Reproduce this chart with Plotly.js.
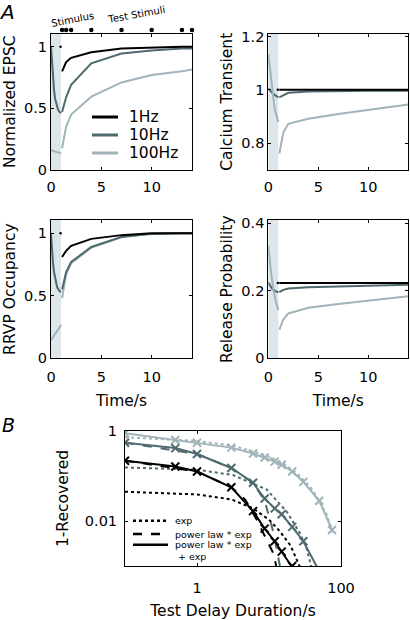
<!DOCTYPE html>
<html>
<head>
<meta charset="utf-8">
<script src="https://cdn.plot.ly/plotly-3.0.1.min.js"></script>
<style>html,body{margin:0;padding:0;background:#fff}#chart{width:410px;height:620px}</style>
</head>
<body>
<div id="chart"></div>
<script>
// ---------- Panel A data ----------
const tStim = [0, 0.1, 0.2, 0.3, 0.4, 0.5, 0.6, 0.7, 0.8, 0.9, 1.0];
const tStimShort = [0, 0.5, 1.0];
const tStimRp = [0, 0.1, 0.25, 0.5, 0.75, 1.0];
const tOneHz = [0.95];
const tTest = [1.1, 1.5, 2, 4, 7, 10, 13, 14];

// Normalized EPSC
const epsc1HzStim = [1.0];
const epsc1Hz = [0.80, 0.875, 0.91, 0.955, 0.985, 0.995, 1.0, 1.0];
const epsc10HzStim = [1.0, 0.86, 0.74, 0.65, 0.58, 0.54, 0.51, 0.49, 0.475, 0.467, 0.46];
const epsc10Hz = [0.47, 0.59, 0.69, 0.865, 0.945, 0.97, 0.985, 0.985];
const epsc100HzStim = [0.16, 0.147, 0.135];
const epsc100Hz = [0.176, 0.35, 0.45, 0.595, 0.71, 0.77, 0.80, 0.815];

// Calcium transient
const ca1HzStim = [1.0];
const ca1Hz = [1.0, 1.0, 1.0, 1.0, 1.0, 1.0, 1.0, 1.0];
const ca10HzStim = [1.005, 1.0, 0.996, 0.992, 0.988, 0.985, 0.982, 0.979, 0.976, 0.974, 0.972];
const ca10Hz = [0.972, 0.981, 0.989, 0.994, 0.996, 0.997, 0.997, 0.997];
const ca100HzStim = [1.134, 1.10, 1.065, 1.03, 0.995, 0.965, 0.94, 0.92, 0.905, 0.89, 0.88];
const ca100Hz = [0.762, 0.84, 0.873, 0.892, 0.91, 0.925, 0.938, 0.945];

// RRVP occupancy
const rr1HzStim = [1.0];
const rr1Hz = [0.81, 0.86, 0.90, 0.955, 0.985, 1.0, 1.0, 1.0];
const rr10HzStim = [1.0, 0.86, 0.76, 0.69, 0.64, 0.60, 0.57, 0.555, 0.54, 0.535, 0.53];
const rr10Hz = [0.55, 0.69, 0.77, 0.89, 0.97, 0.995, 1.0, 1.0];
const rr100HzStim = [0.146, 0.21, 0.266];
const rr100Hz = [0.48, 0.67, 0.76, 0.885, 0.97, 0.995, 1.0, 1.0];

// Release probability
const rp1HzStim = [0.223];
const rp1Hz = [0.223, 0.223, 0.223, 0.223, 0.223, 0.223, 0.223, 0.223];
const rp10HzStim = [0.225, 0.219, 0.214, 0.21, 0.206, 0.203, 0.201, 0.199, 0.198, 0.197, 0.196];
const rp10Hz = [0.196, 0.203, 0.207, 0.211, 0.213, 0.215, 0.217, 0.218];
const rp100HzStim = [0.335, 0.30, 0.26, 0.205, 0.168, 0.143];
const rp100Hz = [0.084, 0.115, 0.133, 0.15, 0.161, 0.171, 0.181, 0.184];

// Test stimulus markers (row above the first panel, on its own hidden axis)
const stimMarkY = [0.5, 0.5, 0.5, 0.5, 0.5, 0.5, 0.5, 0.5];

// ---------- Panel B data ----------
const delays = [0.1, 0.5, 1, 3, 6, 8.7, 12, 15, 21, 30, 50, 75];
const rec100Hz = [0.891, 0.631, 0.550, 0.427, 0.316, 0.257, 0.209, 0.178, 0.126, 0.0741, 0.0282, 0.00631];
const rec10Hz = [0.550, 0.417, 0.309, 0.151, 0.0708, 0.0316, 0.0191, 0.0141, 0.00741, 0.00355, 0.00076, 0.00025];
const delays1Hz = [0.1, 0.5, 1, 3, 6, 8.7, 12, 15, 21, 30];
const rec1Hz = [0.219, 0.162, 0.126, 0.0562, 0.0166, 0.00676, 0.00355, 0.00209, 0.001, 0.000398];

const expX1 = [0.1, 1, 3, 6, 10, 14, 20, 26, 32];
const expY1 = [0.0447, 0.0389, 0.0302, 0.0191, 0.0107, 0.00603, 0.00282, 0.00112, 0.0005];
const expX10 = [0.1, 1, 3.16, 9.3, 17.8, 26.9, 33.1, 38.9, 44.7];
const expY10 = [0.155, 0.138, 0.105, 0.050, 0.0158, 0.00537, 0.00251, 0.001, 0.0004];
const expX100 = [0.1, 1, 3.2, 8.7, 15.8, 25, 40, 63, 79];
const expY100 = [0.724, 0.603, 0.468, 0.295, 0.191, 0.112, 0.0501, 0.0141, 0.00501];
const plX1 = [0.1, 1, 3, 4.7, 6.8, 9.3, 11.5, 12.6, 14.1];
const plY1 = [0.219, 0.126, 0.0562, 0.0295, 0.0105, 0.0038, 0.0019, 0.001, 0.0005];
const plX10 = [0.1, 1, 3, 6, 8.7, 11, 12.6, 14.1, 15.8];
const plY10 = [0.550, 0.309, 0.151, 0.0708, 0.0282, 0.00741, 0.00269, 0.001, 0.0004];

const seriesNames = ['1Hz', '10Hz', '100Hz'];
const xTickVals = [0, 5, 10];
const bLegendNames = ['exp', 'power law * exp', 'power law * exp', '+ exp'];

// ---------- styles ----------
const C1 = '#000000', C10 = '#4f6a6f', C100 = '#a0b4b9';
const FONT = 'DejaVu Sans, Verdana, sans-serif';
const W = 410, H = 620;
const px = v => v / W, py = v => 1 - v / H;

const traces = [];
function addPanel(ax, s1, r1, s10, r10, tS100, s100, r100) {
  const xa = 'x' + (ax === 1 ? '' : ax), ya = 'y' + (ax === 1 ? '' : ax);
  const base = {xaxis: xa, yaxis: ya, hoverinfo: 'skip', type: 'scatter'};
  traces.push(Object.assign({}, base, {x: tOneHz, y: s1, mode: 'markers', marker: {color: C1, size: 2.5}}));
  traces.push(Object.assign({}, base, {x: tStim, y: s10, mode: 'lines', line: {color: C10, width: 2}}));
  traces.push(Object.assign({}, base, {x: tS100, y: s100, mode: 'lines', line: {color: C100, width: 2}}));
  traces.push(Object.assign({}, base, {x: tTest, y: r100, mode: 'lines', line: {color: C100, width: 2}, name: seriesNames[2]}));
  traces.push(Object.assign({}, base, {x: tTest, y: r10, mode: 'lines', line: {color: C10, width: 2}, name: seriesNames[1]}));
  traces.push(Object.assign({}, base, {x: tTest, y: r1, mode: 'lines', line: {color: C1, width: 2}, name: seriesNames[0]}));
}
addPanel(1, epsc1HzStim, epsc1Hz, epsc10HzStim, epsc10Hz, tStimShort, epsc100HzStim, epsc100Hz);
addPanel(2, ca1HzStim, ca1Hz, ca10HzStim, ca10Hz, tStim, ca100HzStim, ca100Hz);
addPanel(3, rr1HzStim, rr1Hz, rr10HzStim, rr10Hz, tStimShort, rr100HzStim, rr100Hz);
addPanel(4, rp1HzStim, rp1Hz, rp10HzStim, rp10Hz, tStimRp, rp100HzStim, rp100Hz);

traces.push({x: tTest, y: stimMarkY, xaxis: 'x', yaxis: 'y6', mode: 'markers', marker: {color: '#000', size: 4.5},
  cliponaxis: false, hoverinfo: 'skip', type: 'scatter'});

// Panel B
const bb = {xaxis: 'x5', yaxis: 'y5', hoverinfo: 'skip', type: 'scatter'};
traces.push(Object.assign({}, bb, {x: expX100, y: expY100, mode: 'lines', line: {color: C100, width: 2, dash: 'dot'}}));
traces.push(Object.assign({}, bb, {x: expX10, y: expY10, mode: 'lines', line: {color: C10, width: 2, dash: 'dot'}}));
traces.push(Object.assign({}, bb, {x: plX10, y: plY10, mode: 'lines', line: {color: C10, width: 2, dash: 'dash'}}));
traces.push(Object.assign({}, bb, {x: delays, y: rec100Hz, mode: 'lines+markers', line: {color: C100, width: 2},
  marker: {symbol: 'x-thin', size: 8, line: {color: C100, width: 2}}}));
traces.push(Object.assign({}, bb, {x: delays, y: rec10Hz, mode: 'lines+markers', line: {color: C10, width: 2},
  marker: {symbol: 'x-thin', size: 8, line: {color: C10, width: 2}}}));
traces.push(Object.assign({}, bb, {x: expX1, y: expY1, mode: 'lines', line: {color: C1, width: 2, dash: 'dot'}}));
traces.push(Object.assign({}, bb, {x: plX1, y: plY1, mode: 'lines', line: {color: C1, width: 2, dash: 'dash'}}));
traces.push(Object.assign({}, bb, {x: delays1Hz, y: rec1Hz, mode: 'lines+markers', line: {color: C1, width: 2},
  marker: {symbol: 'x-thin', size: 8, line: {color: C1, width: 2}}}));

// ---------- axes ----------
const tickFont = {family: FONT, size: 14.5, color: '#000'};
const titleFont = {family: FONT, size: 15.5, color: '#000'};
function axis(extra) {
  return Object.assign({
    showline: true, linecolor: '#000', linewidth: 1, mirror: 'ticks',
    ticks: 'inside', ticklen: 3, tickwidth: 1, tickcolor: '#000',
    showgrid: false, zeroline: false, tickfont: tickFont, fixedrange: true
  }, extra);
}
const xdomL = [px(51), px(192)], xdomR = [px(268.3), px(408.3)];
const ydomT = [py(170), py(33.5)], ydomB = [py(358.3), py(220)];

// ---------- legends (drawn as sample lines + texts) ----------
const legendShapes = [];
const legendTexts = [];
const legA = [{c: C1, y: 117}, {c: C10, y: 135}, {c: C100, y: 153}];
legA.forEach((e, i) => {
  legendShapes.push({type: 'line', xref: 'paper', yref: 'paper', x0: px(92), x1: px(118), y0: py(e.y), y1: py(e.y),
    line: {color: e.c, width: 3}});
  legendTexts.push({text: seriesNames[i], xref: 'paper', yref: 'paper', x: px(127), y: py(e.y), xanchor: 'left', yanchor: 'middle',
    showarrow: false, font: {family: FONT, size: 15.5, color: '#000'}});
});
const legB = [{d: 'dot', y: 520.7}, {d: 'dash', y: 534}, {d: 'solid', y: 544.7}];
legB.forEach(e => {
  legendShapes.push({type: 'line', xref: 'paper', yref: 'paper', x0: px(133), x1: px(168), y0: py(e.y), y1: py(e.y),
    line: {color: '#000', width: 2.5, dash: e.d}});
});
[[172.5, 520.7], [172.5, 534], [172.5, 544.7], [175.5, 556]].forEach((p, i) => {
  legendTexts.push({text: bLegendNames[i], xref: 'paper', yref: 'paper', x: px(p[0]), y: py(p[1]), xanchor: 'left', yanchor: 'middle',
    showarrow: false, font: {family: FONT, size: 9.5, color: '#000'}});
});

const layout = {
  width: W, height: H, margin: {l: 0, r: 0, t: 0, b: 0}, showlegend: false,
  paper_bgcolor: '#fff', plot_bgcolor: 'rgba(0,0,0,0)',
  font: {family: FONT, color: '#000'},
  xaxis: axis({domain: xdomL, anchor: 'y', range: [0, 14], tickvals: xTickVals, ticklabelstandoff: 4}),
  yaxis: axis({domain: ydomT, anchor: 'x', range: [0, 1.107], tickvals: [0, 0.5, 1], ticktext: ['0', '0.5', '1'],
    title: {text: 'Normalized EPSC', font: titleFont, standoff: 4}}),
  yaxis6: {domain: [py(35), py(25)], anchor: 'x', range: [0, 1], visible: false, fixedrange: true},
  xaxis2: axis({domain: xdomR, anchor: 'y2', range: [0, 14], tickvals: xTickVals, ticklabelstandoff: 4}),
  yaxis2: axis({domain: ydomT, anchor: 'x2', range: [0.70, 1.211], tickvals: [0.8, 1, 1.2], ticktext: ['0.8', '1', '1.2'],
    title: {text: 'Calcium Transient', font: titleFont, standoff: 4}}),
  xaxis3: axis({domain: xdomL, anchor: 'y3', range: [0, 14], tickvals: xTickVals, ticklabelstandoff: 5,
    title: {text: 'Time/s', font: titleFont, standoff: 11}}),
  yaxis3: axis({domain: ydomB, anchor: 'x3', range: [0, 1.106], tickvals: [0, 0.5, 1], ticktext: ['0', '0.5', '1'],
    title: {text: 'RRVP Occupancy', font: titleFont, standoff: 4}}),
  xaxis4: axis({domain: xdomR, anchor: 'y4', range: [0, 14], tickvals: xTickVals, ticklabelstandoff: 5,
    title: {text: 'Time/s', font: titleFont, standoff: 11}}),
  yaxis4: axis({domain: ydomB, anchor: 'x4', range: [0, 0.41], tickvals: [0, 0.2, 0.4], ticktext: ['0', '0.2', '0.4'],
    title: {text: 'Release Probability', font: titleFont, standoff: 4}}),
  xaxis5: axis({domain: [px(125), px(341)], anchor: 'y5', type: 'log', range: [-1, 2], tickvals: [1, 100], ticktext: ['1', '100'],
    ticklabelstandoff: 9, title: {text: 'Test Delay Duration/s', font: titleFont, standoff: 12}}),
  yaxis5: axis({domain: [py(566), py(431)], anchor: 'x5', type: 'log', range: [-3, 0], tickvals: [0.01, 1], ticktext: ['0.01', '1'],
    ticklabelstandoff: 4, title: {text: '1-Recovered', font: titleFont, standoff: 12}}),
  shapes: [1, 2, 3, 4].map(i => ({
    type: 'rect', xref: 'x' + (i === 1 ? '' : i), yref: 'y' + (i === 1 ? '' : i) + ' domain',
    x0: 0, x1: 1, y0: 0, y1: 1, fillcolor: '#dce6eb', line: {width: 0}, layer: 'below'
  })).concat(legendShapes),
  annotations: [
    {text: 'A', xref: 'paper', yref: 'paper', x: px(7), y: py(12), xanchor: 'center', yanchor: 'middle', showarrow: false,
      font: {family: FONT, size: 20, color: '#000', style: 'italic'}},
    {text: 'B', xref: 'paper', yref: 'paper', x: px(8), y: py(425), xanchor: 'center', yanchor: 'middle', showarrow: false,
      font: {family: FONT, size: 19, color: '#000', style: 'italic'}},
    {text: 'Stimulus', xref: 'paper', yref: 'paper', x: px(72), y: py(20), xanchor: 'center', yanchor: 'middle', showarrow: false, textangle: -11,
      font: {family: FONT, size: 10, color: '#000'}},
    {text: 'Test Stimuli', xref: 'paper', yref: 'paper', x: px(136), y: py(14), xanchor: 'center', yanchor: 'middle', showarrow: false, textangle: -10,
      font: {family: FONT, size: 10, color: '#000'}}
  ].concat(legendTexts)
};

Plotly.newPlot('chart', traces, layout, {staticPlot: true, displayModeBar: false});
</script>
</body>
</html>
